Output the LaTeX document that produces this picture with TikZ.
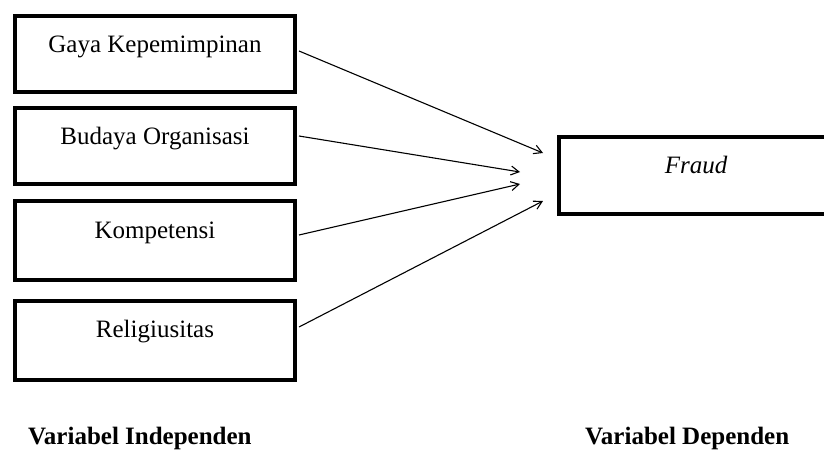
\documentclass[tikz,border=0pt]{standalone}
\usepackage{fontspec}
\setmainfont{Liberation Serif}
\usetikzlibrary{arrows.meta,calc}
\begin{document}
\begin{tikzpicture}[x=1pt,y=-1pt,
  box/.style={draw=black,line width=4pt,rectangle,inner sep=0pt,minimum width=280pt,
    anchor=north west,align=center,font=\fontsize{25}{30}\selectfont},
  conn/.style={line width=1.1pt,-{Straight Barb[length=8pt,width=9pt,line width=1.1pt]}},
  vlabel/.style={anchor=base west,inner sep=0pt,font=\fontsize{25}{30}\selectfont\bfseries}]
\useasboundingbox (0,0) rectangle (824,450);
\clip (0,0) rectangle (824,450);
\node[box,text height=36pt,text depth=40pt] (b1) at (13,14) {Gaya Kepemimpinan};
\node[box,text height=36pt,text depth=40pt] (b2) at (13,106) {Budaya Organisasi};
\node[box,text height=37pt,text depth=42pt] (b3) at (13,199) {Kompetensi};
\node[box,text height=36pt,text depth=43pt] (b4) at (13,299) {Religiusitas};
\node[box,minimum width=280pt,minimum height=77pt] (f) at (557,135) {};
\node[anchor=base,inner sep=0pt,font=\fontsize{25}{30}\selectfont\itshape] (ft) at (696,173) {Fraud};
\coordinate (e1) at (543,153);
\coordinate (e2) at (520,172);
\coordinate (e3) at (520,184);
\coordinate (e4) at (543,201);
\draw[conn] ($(b1.north east)+(2,37)$) -- (e1);
\draw[conn] ($(b2.north east)+(2,30)$) -- (e2);
\draw[conn] ($(b3.north east)+(2,36)$) -- (e3);
\draw[conn] ($(b4.north east)+(2,28)$) -- (e4);
\node[vlabel] (li) at (28,444) {Variabel Independen};
\node[vlabel] (ld) at (585,444) {Variabel Dependen};
\end{tikzpicture}
\end{document}
